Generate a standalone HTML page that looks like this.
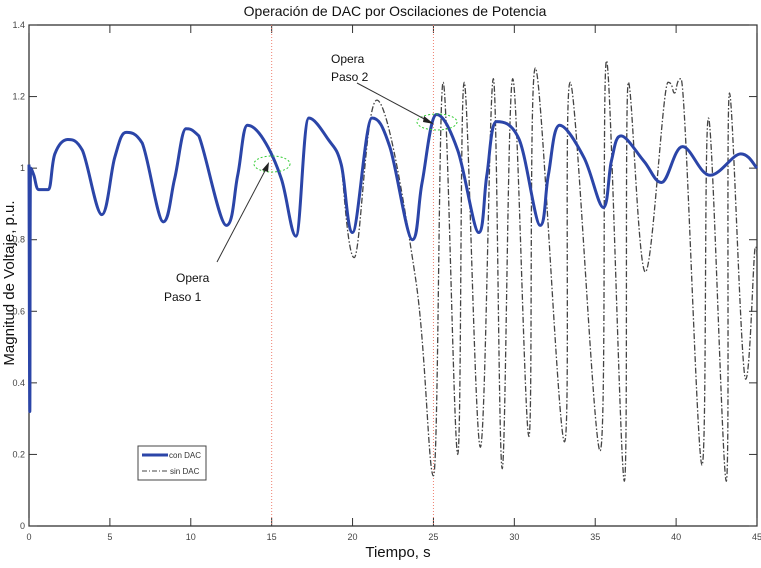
<!DOCTYPE html>
<html><head><meta charset="utf-8"><style>
body{margin:0;background:#fff;}
svg text{font-family:"Liberation Sans",sans-serif;}
</style></head><body>
<svg id="chart" width="761" height="563" viewBox="0 0 761 563" xmlns="http://www.w3.org/2000/svg">
<rect width="761" height="563" fill="#fff"/>
<text x="395" y="16" font-size="14" text-anchor="middle" fill="#111">Operación de DAC por Oscilaciones de Potencia</text>
<text x="398" y="557" font-size="15" text-anchor="middle" fill="#111">Tiempo, s</text>
<text transform="translate(14,283) rotate(-90)" font-size="15" text-anchor="middle" fill="#111">Magnitud de Voltaje, p.u.</text>
<g id="axes"></g>
<g id="marks"></g>
<g id="annot">
<ellipse cx="272" cy="164" rx="18" ry="8" fill="none" stroke="#3c3" stroke-width="1" stroke-dasharray="2,2"/>
<ellipse cx="437" cy="122" rx="20" ry="8" fill="none" stroke="#3c3" stroke-width="1" stroke-dasharray="2,2"/>
<line x1="217" y1="262" x2="267" y2="167" stroke="#333" stroke-width="1"/>
<polygon points="269,162 262,170 268,172" fill="#222"/>
<line x1="357" y1="83" x2="430" y2="122" stroke="#333" stroke-width="1"/>
<polygon points="434,124 424,116 423,122" fill="#222"/>
<text x="176" y="282" font-size="12" fill="#111">Opera</text>
<text x="164" y="301" font-size="12" fill="#111">Paso 1</text>
<text x="331" y="63" font-size="12" fill="#111">Opera</text>
<text x="331" y="81" font-size="12" fill="#111">Paso 2</text>
</g>
<g>
<rect x="138" y="446" width="68" height="34" fill="#fff" stroke="#444" stroke-width="1"/>
<line x1="142" y1="455" x2="168" y2="455" stroke="#2b45a8" stroke-width="3"/>
<text x="169" y="458" font-size="8" fill="#333">con DAC</text>
<line x1="142" y1="471" x2="168" y2="471" stroke="#444" stroke-width="1" stroke-dasharray="5,2,1,2"/>
<text x="170" y="474" font-size="8" fill="#333">sin DAC</text>
</g>
</svg>
<script>
const xTicks=[0,5,10,15,20,25,30,35,40,45];
const yTicks=[0,0.2,0.4,0.6,0.8,1,1.2,1.4];
const yTickLabels=["0","0.2","0.4","0.6","0.8","1","1.2","1.4"];
const eventTimes=[15,25];
const conT=[0,0.05,0.1,0.3,0.6,1.2,1.6,2.4,3.3,4.5,5.3,6,7,8.3,9.0,9.7,10.5,12.2,12.9,13.5,14.5,15.6,16.5,17.3,18.5,19.3,20,21.2,22.3,23.7,24.3,25.2,26.5,27.8,28.3,28.9,30.3,31.6,32.1,32.8,34.3,35.5,36.0,36.6,38,39.1,40.4,42.1,44,45];
const conV=[1.01,0.32,1.0,0.98,0.94,0.94,1.04,1.08,1.05,0.87,1.03,1.10,1.07,0.85,0.97,1.11,1.09,0.84,0.98,1.12,1.08,0.97,0.81,1.14,1.08,1.01,0.82,1.14,1.06,0.80,0.96,1.15,1.05,0.82,0.98,1.13,1.08,0.84,0.98,1.12,1.03,0.89,1.02,1.09,1.02,0.96,1.06,0.98,1.04,1.0];
const sinT=[19.3,20.1,21.5,23.9,25.0,25.6,26.5,26.9,27.9,28.7,29.25,29.9,30.9,31.3,33.1,33.45,35.3,35.7,36.8,37.05,38.1,39.5,39.9,40.3,41.6,42.0,43.1,43.3,44.3,44.9,45];
const sinV=[1.01,0.75,1.19,0.69,0.14,1.24,0.20,1.24,0.22,1.25,0.16,1.25,0.25,1.28,0.235,1.24,0.21,1.30,0.125,1.24,0.71,1.24,1.21,1.25,0.17,1.14,0.125,1.21,0.41,0.78,0.75];
const X0=29,X1=757,Y0=526,Y1=25;
const sx=t=>X0+(t/45)*(X1-X0);
const sy=v=>Y0-(v/1.4)*(Y0-Y1);
const NS="http://www.w3.org/2000/svg";
function mk(tag,attrs,parent){const e=document.createElementNS(NS,tag);for(const k in attrs)e.setAttribute(k,attrs[k]);parent.appendChild(e);return e;}
function clamp(v,a,b){const lo=Math.min(a,b),hi=Math.max(a,b);return Math.max(lo,Math.min(hi,v));}
function smooth(ts,vs){
 const p=ts.map((t,i)=>[sx(t),sy(vs[i])]);
 let d='M'+p[0][0]+','+p[0][1];
 for(let i=0;i<p.length-1;i++){
  const a=p[Math.max(0,i-1)],b=p[i],c=p[i+1],e=p[Math.min(p.length-1,i+2)];
  const k=0.18;
  const bExt=(i>0)&&((b[1]-a[1])*(c[1]-b[1])<=0);
  const cExt=(i+2<p.length)&&((c[1]-b[1])*(e[1]-c[1])<=0);
  const c1=[b[0]+(c[0]-a[0])*k, bExt?b[1]:clamp(b[1]+(c[1]-a[1])*k,b[1],c[1])];
  const c2=[c[0]-(e[0]-b[0])*k, cExt?c[1]:clamp(c[1]-(e[1]-b[1])*k,b[1],c[1])];
  d+=' C'+c1[0]+','+c1[1]+' '+c2[0]+','+c2[1]+' '+c[0]+','+c[1];
 }
 return d;
}
const axes=document.getElementById('axes'),marks=document.getElementById('marks');
const frame=mk('rect',{x:X0,y:Y1,width:X1-X0,height:Y0-Y1,fill:'none',stroke:'#222','stroke-width':1.2},axes);


xTicks.forEach(t=>{
 mk('line',{x1:sx(t),y1:Y0,x2:sx(t),y2:Y0-8,stroke:'#333'},axes);
 mk('line',{x1:sx(t),y1:Y1,x2:sx(t),y2:Y1+8,stroke:'#333'},axes);
 const tx=mk('text',{x:sx(t),y:Y0+14,'font-size':9,'text-anchor':'middle',fill:'#444'},axes);
 tx.textContent=t;
 
 
});
yTicks.forEach((v,i)=>{
 mk('line',{x1:X0,y1:sy(v),x2:X0+8,y2:sy(v),stroke:'#333'},axes);
 mk('line',{x1:X1,y1:sy(v),x2:X1-8,y2:sy(v),stroke:'#333'},axes);
 const tx=mk('text',{x:X0-4,y:sy(v)+3,'font-size':9,'text-anchor':'end',fill:'#444'},axes);
 tx.textContent=yTickLabels[i];
 
 
});
eventTimes.forEach(t=>{
 const l=mk('line',{x1:sx(t),y1:Y1,x2:sx(t),y2:Y0,stroke:'#f08070','stroke-width':1,'stroke-dasharray':'1,2'},marks);
 
 
});
const sinPath=mk('path',{d:smooth(sinT,sinV),fill:'none',stroke:'#444','stroke-width':1.3,'stroke-dasharray':'6,2,1.5,2'},marks);


const conPath=mk('path',{d:smooth(conT,conV),fill:'none',stroke:'#2b45a8','stroke-width':3,'stroke-linejoin':'round'},marks);


</script>
</body></html>
